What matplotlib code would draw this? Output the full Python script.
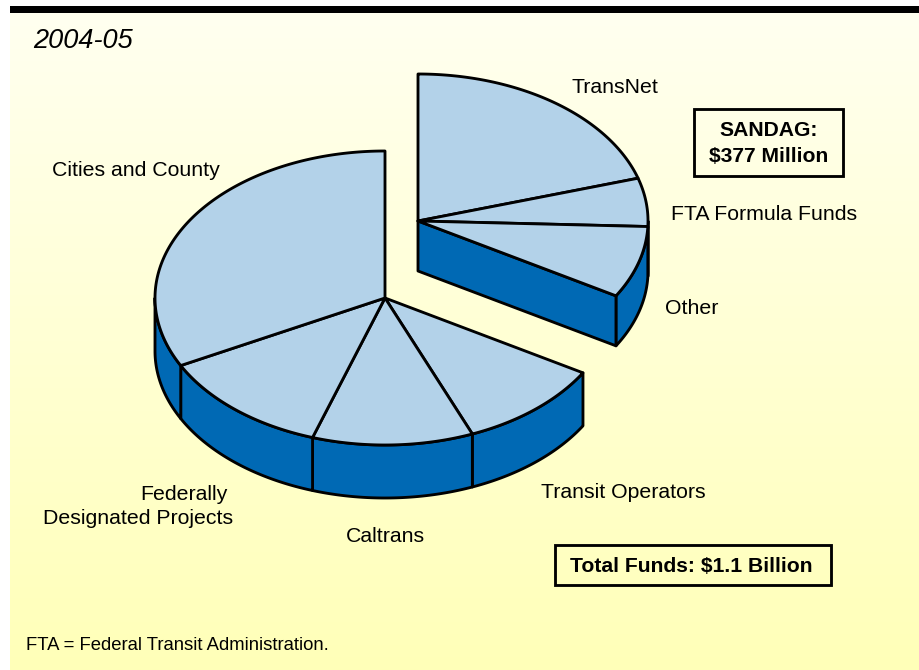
import matplotlib.pyplot as plt
import numpy as np
from matplotlib.patches import Polygon, Rectangle

plt.rcParams["font.family"] = ["Liberation Sans", "DejaVu Sans"]

# shares of total funds, percent, clockwise from 12 o'clock
sandag_labels = ["TransNet", "FTA Formula Funds", "Other"]
sandag_shares = [20.3, 5.3, 7.9]
rest_labels = ["Transit Operators", "Caltrans", "Federally", "Designated Projects", "Cities and County"]
rest_shares = [10.3, 11.3, 12.3, 32.6]
title = "2004-05"
note = "FTA = Federal Transit Administration."

top_color = "#b3d2e9"
side_color = "#0069b4"
rx, ry = 230, 147
lw = 2.05


def ellipse_pts(cx, cy, a0, a1):
    t = np.radians(np.linspace(a0, a1, 200))
    return np.column_stack([cx + rx * np.cos(t), cy - ry * np.sin(t)])


def draw_pie(ax, cx, cy, depth, shares, start):
    # shares run clockwise, start is the angle the first slice begins at
    angles = start - np.cumsum([0] + shares) * 3.6

    # outer wall, only the part facing the viewer (sin < 0)
    for a0, a1 in zip(angles[:-1], angles[1:]):
        lo, hi = max(a1, -180), min(a0, 0)
        if lo >= hi:
            continue
        edge = ellipse_pts(cx, cy, hi, lo)
        wall = np.vstack([edge, edge[::-1] + [0, depth]])
        ax.add_patch(Polygon(wall, closed=True, fc=side_color, ec="black", lw=lw, joinstyle="round"))

    # cut face of the last slice, when it looks towards the viewer
    a = angles[-1]
    if -90 < a < 0:
        p = ellipse_pts(cx, cy, a, a)[0]
        face = [(cx, cy), p, p + [0, depth], (cx, cy + depth)]
        ax.add_patch(Polygon(face, closed=True, fc=side_color, ec="black", lw=lw, joinstyle="round"))

    for a0, a1 in zip(angles[:-1], angles[1:]):
        rim = ellipse_pts(cx, cy, a0, a1)
        ax.add_patch(Polygon(np.vstack([[cx, cy], rim]), closed=True, fc=top_color, ec="black", lw=lw, joinstyle="round"))


fig = plt.figure(figsize=(9.19, 6.70), dpi=100)
ax = fig.add_axes([0, 0, 1, 1])
ax.axis("off")

# background gradient
grad = np.linspace(0, 1, 256)[:, None, None]
c0 = np.array([255, 255, 240]) / 255
c1 = np.array([255, 255, 184]) / 255
ax.imshow(c0 + (c1 - c0) * grad, extent=[10, 919, 670, 13], aspect="auto", zorder=0)
ax.set_xlim(0, 919)
ax.set_ylim(670, 0)
ax.add_patch(Rectangle((10, 6), 909, 7, fc="black", ec="none", zorder=1))

draw_pie(ax, 385, 298, 53, rest_shares, 90 - sum(sandag_shares) * 3.6)
draw_pie(ax, 418, 221, 50, sandag_shares, 90)

fs = 15.3
ax.text(33, 41, title, fontsize=19.5, style="italic", ha="left", va="center")
ax.text(571, 87.5, sandag_labels[0], fontsize=fs, ha="left", va="center")
ax.text(671, 214, sandag_labels[1], fontsize=fs, ha="left", va="center")
ax.text(665, 308.5, sandag_labels[2], fontsize=fs, ha="left", va="center")
ax.text(541, 492.5, rest_labels[0], fontsize=fs, ha="left", va="center")
ax.text(346, 536, rest_labels[1], fontsize=fs, ha="left", va="center")
ax.text(184, 494.5, rest_labels[2], fontsize=fs, ha="center", va="center")
ax.text(138, 519, rest_labels[3], fontsize=fs, ha="center", va="center")
ax.text(52, 170.5, rest_labels[4], fontsize=fs, ha="left", va="center")
ax.text(26, 645, note, fontsize=13.3, ha="left", va="center")

ax.add_patch(Rectangle((693.5, 108.5), 149.5, 67, fc="none", ec="black", lw=lw, zorder=3))
ax.text(768.5, 143.5, "SANDAG:\n$377 Million", fontsize=15.2, fontweight="bold", ha="center", va="center", linespacing=1.5)
ax.add_patch(Rectangle((554.5, 544.5), 276, 40, fc="none", ec="black", lw=lw, zorder=3))
ax.text(691, 566, "Total Funds: $1.1 Billion", fontsize=15.2, fontweight="bold", ha="center", va="center")

fig.savefig("out.png", dpi=100)
